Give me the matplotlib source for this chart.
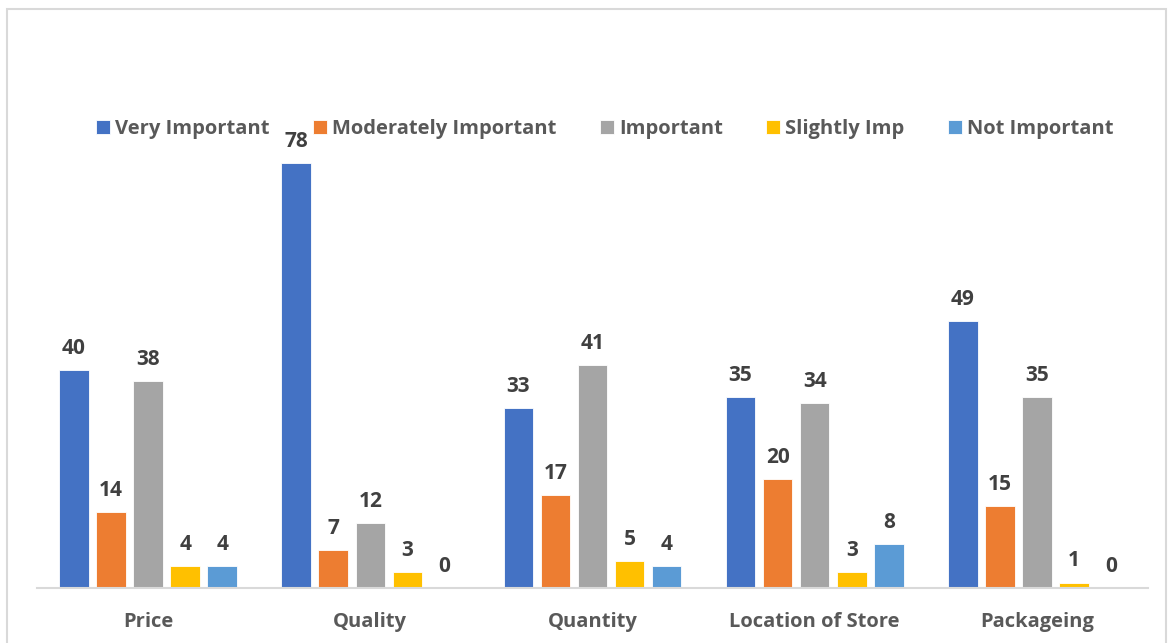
import matplotlib.pyplot as plt
import numpy as np
from matplotlib.patches import Rectangle

categories = ['Price', 'Quality', 'Quantity', 'Location of Store', 'Packageing']
series = ['Very Important', 'Moderately Important', 'Important', 'Slightly Imp', 'Not Important']
very_important = [40, 78, 33, 35, 49]
moderately_important = [14, 7, 17, 20, 15]
important = [38, 12, 41, 34, 35]
slightly_imp = [4, 3, 5, 3, 1]
not_important = [4, 0, 4, 8, 0]
values = [very_important, moderately_important, important, slightly_imp, not_important]
colors = ['#4472C4', '#ED7D31', '#A5A5A5', '#FFC000', '#5B9BD5']

plt.rcParams['font.family'] = ['Open Sans', 'DejaVu Sans']

fig = plt.figure(figsize=(11.7, 6.43), dpi=100)
ax = fig.add_axes([37/1170, 1 - 588/643, (1148-37)/1170, (588-98)/643])

# chart border
fig.patches.append(Rectangle((7/1170, -0.05), (1166-7)/1170, 1.05 - 9/643, transform=fig.transFigure,
                             fill=False, edgecolor='#D9D9D9', linewidth=1.5))

x = np.arange(len(categories))
slot = 0.1667
width = 0.133
for i, (vals, name, c) in enumerate(zip(values, series, colors)):
    pos = x + (i - 2) * slot
    bars = ax.bar(pos, vals, width=width, color=c, label=name, edgecolor='white', linewidth=0.6)
    ax.bar_label(bars, labels=[str(v) for v in vals], padding=8, fontsize=15,
                 fontweight='bold', color='#404040')

ax.set_xlim(-0.5, len(categories) - 0.5)
ax.set_ylim(0, 90)
ax.set_yticks([])
ax.set_xticks(x)
ax.set_xticklabels(categories, fontsize=14.5, fontweight='bold', color='#595959')
ax.tick_params(axis='x', length=0, pad=17)
for s in ['top', 'right', 'left']:
    ax.spines[s].set_visible(False)
ax.spines['bottom'].set_color('#D9D9D9')
ax.spines['bottom'].set_linewidth(1.5)
ax.set_facecolor('none')

leg = fig.legend(loc='center', bbox_to_anchor=(605/1170, 1 - 129/643), ncol=5, frameon=False,
                 prop={'size': 14.5, 'weight': 'bold'}, handlelength=0.7, handleheight=0.7,
                 handletextpad=0.25, columnspacing=2.15)
for t in leg.get_texts():
    t.set_color('#595959')

plt.savefig('out.png', dpi=100)
